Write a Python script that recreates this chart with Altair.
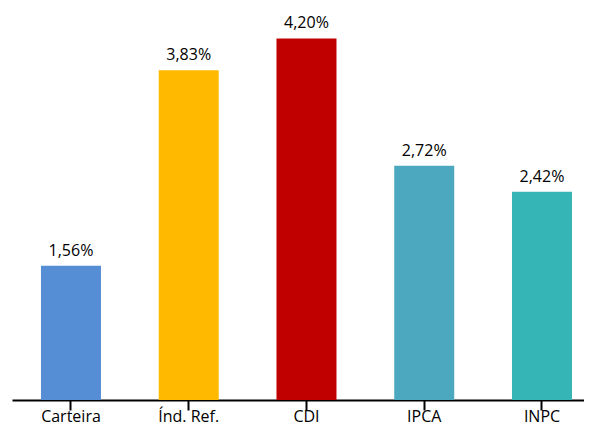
import altair as alt
import pandas as pd

categories = ["Carteira", "Índ. Ref.", "CDI", "IPCA", "INPC"]
values = [1.56, 3.83, 4.20, 2.72, 2.42]
colors = ["#558ED5", "#FFBA00", "#C00000", "#4BA8BF", "#36B5B7"]

df = pd.DataFrame({
    "cat": categories,
    "val": values,
    "label": [f"{v:.2f}".replace(".", ",") + "%" for v in values],
})

FONT = "Open Sans"

x = alt.X("cat:N", sort=categories, title=None,
          scale=alt.Scale(paddingInner=0.4904, paddingOuter=0.174, align=0.707),
          axis=alt.Axis(labelAngle=0, domainColor="#000000", domainWidth=2,
                        tickColor="#000000", tickWidth=2, tickSize=10,
                        labelBaseline="alphabetic", labelPadding=11,
                        labelFontSize=16, labelFont=FONT,
                        labelColor="#000000", grid=False))
y = alt.Y("val:Q", title=None, scale=alt.Scale(domain=[0, 4.553], nice=False),
          axis=None)

bars = alt.Chart(df).mark_bar().encode(
    x=x, y=y,
    color=alt.Color("cat:N", scale=alt.Scale(domain=categories, range=colors), legend=None),
)
text = alt.Chart(df).mark_text(baseline="alphabetic", dy=-10, fontSize=16,
                               font=FONT, color="#000000").encode(
    x=alt.X("cat:N", sort=categories), y="val:Q", text="label:N")

chart = (bars + text).properties(
    width=572, height=392,
    padding={"left": 4, "top": 0, "right": 0, "bottom": 30},
    autosize=alt.AutoSizeParams(type="none"),
).configure_view(stroke=None)

chart.save("out.html", embed_options={"renderer": "svg", "actions": False})
